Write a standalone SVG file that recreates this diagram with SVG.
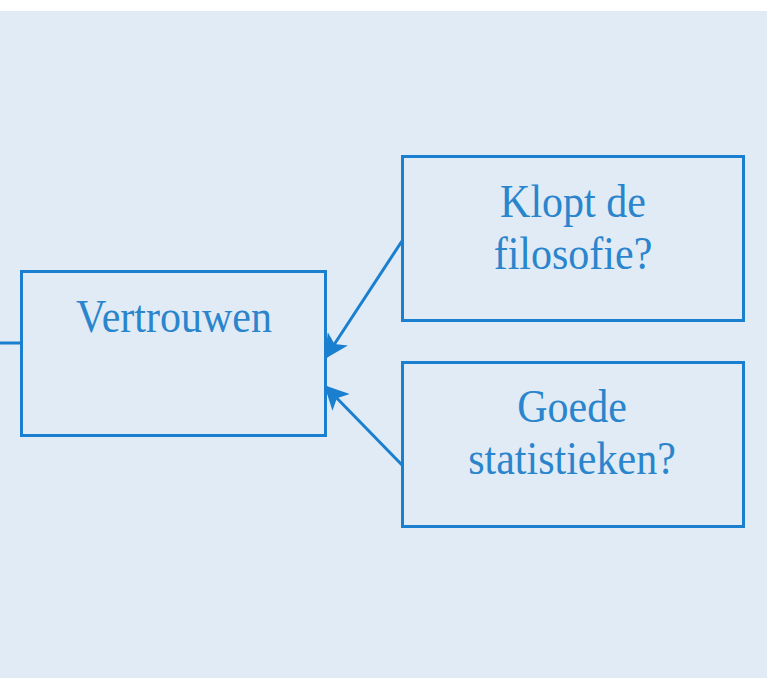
<svg xmlns="http://www.w3.org/2000/svg" width="767" height="678" viewBox="0 0 767 678">
<defs>
<style>
.box{fill:none;stroke:#1a7fcf;stroke-width:3}
.lbl{font-family:"Liberation Serif","Times New Roman",serif;font-size:42px;fill:#2a85cc;text-anchor:middle}
.con{stroke:#1a7fcf;stroke-width:3;fill:none}
</style>
<marker id="ah2" viewBox="0 0 10 10" refX="9" refY="5" markerWidth="28" markerHeight="24" markerUnits="userSpaceOnUse" orient="auto">
<path d="M0,0 L10,5 L0,10 L2.5,5 Z" fill="#1a7fcf"/>
</marker>
</defs>
<rect x="0" y="0" width="767" height="678" fill="#ffffff"/>
<rect x="0" y="11" width="767" height="667" fill="#e0ebf6"/>
<g id="connectors">
<line class="con" x1="0" y1="343" x2="21" y2="343"/>
<line class="con" x1="402" y1="241" x2="326" y2="357" marker-end="url(#ah2)"/>
<line class="con" x1="402" y1="465" x2="326" y2="387" marker-end="url(#ah2)"/>
</g>
<g id="vertrouwen">
<rect class="box" x="21.5" y="271.5" width="304" height="164"/>
<text class="lbl" transform="translate(174,332) scale(1,1.08)">Vertrouwen</text>
</g>
<g id="filosofie">
<rect class="box" x="402.5" y="156.5" width="341" height="164"/>
<text class="lbl" transform="translate(573,217) scale(1,1.08)">Klopt de</text>
<text class="lbl" transform="translate(573,269) scale(1,1.08)">filosofie?</text>
</g>
<g id="statistieken">
<rect class="box" x="402.5" y="362.5" width="341" height="164"/>
<text class="lbl" transform="translate(572,422) scale(1,1.08)">Goede</text>
<text class="lbl" transform="translate(572,474) scale(1,1.08)">statistieken?</text>
</g>
</svg>
